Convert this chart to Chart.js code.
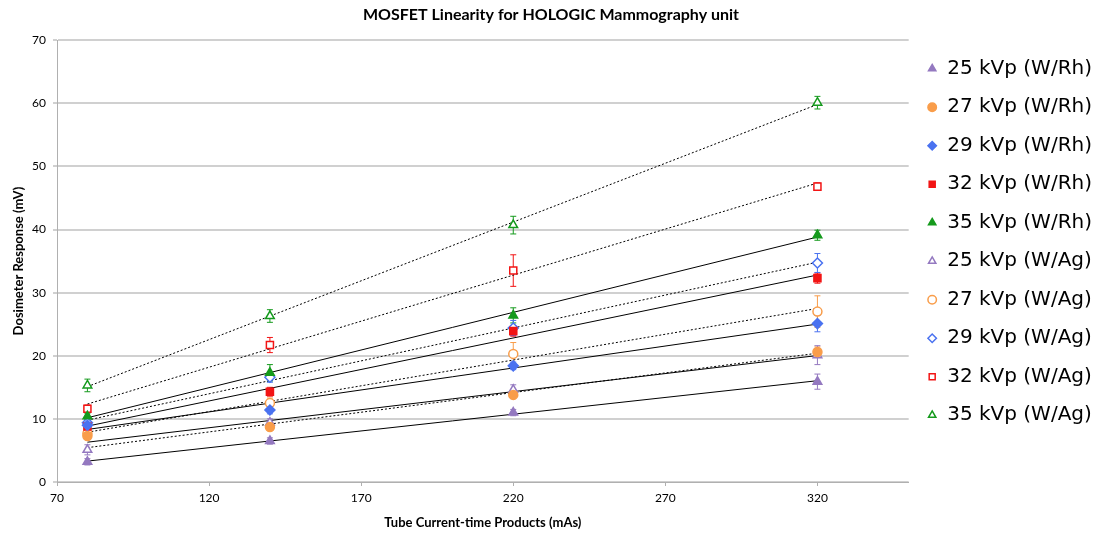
<!DOCTYPE html>
<html>
<head>
<meta charset="utf-8">
<title>MOSFET Linearity</title>
<script src="https://cdn.jsdelivr.net/npm/chart.js@4/dist/chart.umd.min.js"></script>
<style>
    html, body { margin: 0; padding: 0; background: #fff; }
    #wrap { width: 1102px; height: 538px; }
</style>
</head>
<body>
<div id="wrap"><canvas id="linearityChart"></canvas></div>
<script>
// Tube current-time products (mAs)
const mAs = [80, 140, 220, 320];
const xTicks = [70, 120, 170, 220, 270, 320];

// Dosimeter response (mV), W/Rh target-filter
const rh25 = [3.2, 6.5, 11.0, 15.9];
const rh27 = [7.3, 8.7, 13.8, 20.6];
const rh29 = [9.0, 11.4, 18.4, 25.1];
const rh32 = [8.8, 14.3, 23.9, 32.3];
const rh35 = [10.4, 17.3, 26.4, 39.1];

// W/Ag target-filter
const ag25 = [5.1, 9.4, 14.6, 20.1];
const ag27 = [7.7, 12.5, 20.3, 27.0];
const ag29 = [9.4, 16.6, 24.4, 34.7];
const ag32 = [11.6, 21.7, 33.5, 46.8];
const ag35 = [15.3, 26.3, 40.7, 60.1];

// error bar half-widths (mV)
const rh25Err = [0.5, 0.5, 0.5, 1.2];
const rh27Err = [0.5, 0.5, 0.6, 0.8];
const rh29Err = [0.5, 0.6, 0.6, 1.3];
const rh32Err = [0.5, 0.7, 0.8, 0.8];
const rh35Err = [0.5, 1.3, 1.2, 0.8];
const ag25Err = [0.8, 0.6, 0.8, 1.5];
const ag27Err = [0.8, 0.8, 1.8, 2.5];
const ag29Err = [0.6, 0.8, 1.2, 1.5];
const ag32Err = [0.6, 1.2, 2.5, 0.6];
const ag35Err = [1.0, 1.0, 1.4, 1.0];

const PURPLE = '#9479c0';
const ORANGE = '#f99d4a';
const BLUE = '#4a72f0';
const RED = '#f21414';
const GREEN = '#159a1d';

const series = [
    { label: '25 kVp (W/Rh)', values: rh25, err: rh25Err, color: PURPLE, style: 'triangle', filled: true },
    { label: '27 kVp (W/Rh)', values: rh27, err: rh27Err, color: ORANGE, style: 'circle', filled: true },
    { label: '29 kVp (W/Rh)', values: rh29, err: rh29Err, color: BLUE, style: 'rectRot', filled: true },
    { label: '32 kVp (W/Rh)', values: rh32, err: rh32Err, color: RED, style: 'rect', filled: true },
    { label: '35 kVp (W/Rh)', values: rh35, err: rh35Err, color: GREEN, style: 'triangle', filled: true },
    { label: '25 kVp (W/Ag)', values: ag25, err: ag25Err, color: PURPLE, style: 'triangle', filled: false },
    { label: '27 kVp (W/Ag)', values: ag27, err: ag27Err, color: ORANGE, style: 'circle', filled: false },
    { label: '29 kVp (W/Ag)', values: ag29, err: ag29Err, color: BLUE, style: 'rectRot', filled: false },
    { label: '32 kVp (W/Ag)', values: ag32, err: ag32Err, color: RED, style: 'rect', filled: false },
    { label: '35 kVp (W/Ag)', values: ag35, err: ag35Err, color: GREEN, style: 'triangle', filled: false }
];

// least squares trendline, evaluated at the first and last mAs value
function trendline(values) {
    const n = mAs.length;
    const mx = mAs.reduce((a, b) => a + b, 0) / n;
    const my = values.reduce((a, b) => a + b, 0) / n;
    let sxy = 0, sxx = 0;
    for (let i = 0; i < n; i++) {
        sxy += (mAs[i] - mx) * (values[i] - my);
        sxx += (mAs[i] - mx) * (mAs[i] - mx);
    }
    const slope = sxy / sxx;
    const ends = [mAs[0], mAs[n - 1]];
    return ends.map(x => ({ x: x, y: my + slope * (x - mx) }));
}

const datasets = [];
series.forEach(s => {
    datasets.push({
        label: s.label,
        data: s.values.map((v, i) => ({ x: mAs[i], y: v })),
        errors: s.err,
        pointStyle: s.style,
        pointRadius: s.style === 'circle' ? 4.5 : 5,
        pointHoverRadius: 5,
        pointBorderWidth: 1.5,
        backgroundColor: s.filled ? s.color : '#ffffff',
        borderColor: s.color,
        borderWidth: 1.5,
        order: 0
    });
});
series.forEach(s => {
    datasets.push({
        label: s.label + ' trend',
        trend: true,
        data: trendline(s.values),
        showLine: true,
        pointRadius: 0,
        borderColor: '#000000',
        borderWidth: 1,
        borderDash: s.filled ? [] : [2, 2],
        order: 1
    });
});

// vertical error bars with caps, drawn under the markers
const errorBars = {
    id: 'errorBars',
    beforeDatasetsDraw(chart) {
        const ctx = chart.ctx;
        const yScale = chart.scales.y;
        ctx.save();
        chart.data.datasets.forEach((ds, i) => {
            if (!ds.errors) return;
            const meta = chart.getDatasetMeta(i);
            ctx.strokeStyle = ds.borderColor;
            ctx.lineWidth = 1;
            meta.data.forEach((pt, j) => {
                const v = ds.data[j].y;
                const top = yScale.getPixelForValue(v + ds.errors[j]);
                const bot = yScale.getPixelForValue(v - ds.errors[j]);
                ctx.beginPath();
                ctx.moveTo(pt.x, top);
                ctx.lineTo(pt.x, bot);
                ctx.moveTo(pt.x - 3, top);
                ctx.lineTo(pt.x + 3, top);
                ctx.moveTo(pt.x - 3, bot);
                ctx.lineTo(pt.x + 3, bot);
                ctx.stroke();
            });
        });
        ctx.restore();
    }
};

const axisFont = 'Lato, "DejaVu Sans", sans-serif';

new Chart(document.getElementById('linearityChart'), {
    type: 'scatter',
    data: { datasets: datasets },
    plugins: [errorBars],
    options: {
        responsive: true,
        maintainAspectRatio: false,
        animation: false,
        layout: { padding: { top: 0, right: 0, bottom: 0, left: 0 } },
        scales: {
            x: {
                type: 'linear',
                min: 70,
                max: 350,
                afterBuildTicks: scale => {
                    scale.ticks = xTicks.map(v => ({ value: v }));
                },
                afterFit: scale => { scale.height = 56; },
                border: { display: true, color: '#b0b0b0', width: 1 },
                grid: { drawOnChartArea: false, drawTicks: true, tickLength: 4, color: '#b0b0b0' },
                ticks: { color: '#000', padding: 5, font: { family: axisFont, size: 12 }, maxRotation: 0 },
                title: {
                    display: true,
                    text: 'Tube Current-time Products (mAs)',
                    color: '#000',
                    font: { family: axisFont, size: 13, weight: 'bold' },
                    padding: { top: 0, bottom: 7 }
                }
            },
            y: {
                min: 0,
                max: 70,
                afterFit: scale => { scale.width = 57; },
                border: { display: true, color: '#b0b0b0', width: 1 },
                grid: { color: '#d0d0d0', lineWidth: 2, drawTicks: true, tickLength: 4 },
                ticks: { stepSize: 10, color: '#000', padding: 7, font: { family: axisFont, size: 12 } },
                title: {
                    display: true,
                    text: 'Dosimeter Response (mV)',
                    color: '#000',
                    font: { family: axisFont, size: 13, weight: 'bold' },
                    padding: { top: 11, bottom: 0 }
                }
            }
        },
        plugins: {
            title: {
                display: true,
                text: 'MOSFET Linearity for HOLOGIC Mammography unit',
                color: '#000',
                font: { family: axisFont, size: 16, weight: 'bold' },
                padding: { top: 5, bottom: 16 }
            },
            legend: {
                position: 'right',
                align: 'start',
                fullSize: false,
                labels: {
                    usePointStyle: true,
                    boxWidth: 10,
                    boxHeight: 6,
                    padding: 18.5,
                    color: '#000',
                    font: { family: '"DejaVu Sans", sans-serif', size: 20 },
                    filter: (item, data) => !data.datasets[item.datasetIndex].trend
                }
            },
            tooltip: { enabled: false }
        }
    }
});
</script>
</body>
</html>
